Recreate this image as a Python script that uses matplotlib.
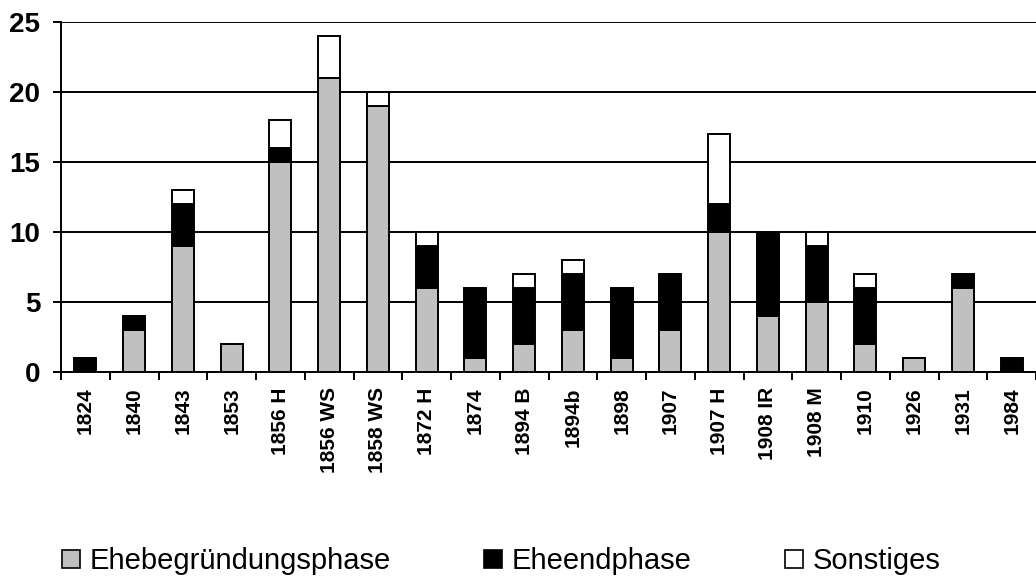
import numpy as np
import matplotlib.pyplot as plt
from matplotlib.patches import Patch

plt.rcParams['font.family'] = ['Liberation Sans', 'DejaVu Sans']

labels = ['1824', '1840', '1843', '1853', '1856 H', '1856 WS', '1858 WS', '1872 H',
          '1874', '1894 B', '1894b', '1898', '1907', '1907 H', '1908 IR', '1908 M',
          '1910', '1926', '1931', '1984']
begruendung = [0, 3, 9, 2, 15, 21, 19, 6, 1, 2, 3, 1, 3, 10, 4, 5, 2, 1, 6, 0]
endphase = [1, 1, 3, 0, 1, 0, 0, 3, 5, 4, 4, 5, 4, 2, 6, 4, 4, 0, 1, 1]
sonstiges = [0, 0, 1, 0, 2, 3, 1, 1, 0, 1, 1, 0, 0, 5, 0, 1, 1, 0, 0, 0]

x = np.arange(len(labels))
b1 = np.array(begruendung)
b2 = np.array(endphase)
b3 = np.array(sonstiges)

fig = plt.figure(figsize=(10.36, 5.78), dpi=100)
ax = fig.add_axes([0.0589, 0.3564, 0.9411, 0.6055])

w = 0.45
lw = 1.4
ax.bar(x, b1, w, color='#c0c0c0', edgecolor='black', linewidth=lw, zorder=3)
ax.bar(x, b2, w, bottom=b1, color='black', edgecolor='black', linewidth=lw, zorder=3)
ax.bar(x, b3, w, bottom=b1 + b2, color='white', edgecolor='black', linewidth=lw, zorder=3)

ax.set_xlim(-0.5, len(labels) - 0.5)
ax.set_ylim(0, 25)
ax.set_yticks([0, 5, 10, 15, 20, 25])
ax.yaxis.grid(True, color='black', linewidth=1.4)
ax.set_axisbelow(True)

ax.set_xticks(x)
ax.set_xticklabels(labels, rotation=90, fontsize=15, fontweight='bold')
ax.set_xticks(np.arange(-0.5, len(labels)), minor=True)
ax.tick_params(axis='x', which='major', length=0, pad=11)
ax.tick_params(axis='x', which='minor', length=6, width=1.4, direction='out')
ax.tick_params(axis='y', length=6, width=1.4, direction='out', labelsize=20, pad=9)
for t in ax.get_yticklabels():
    t.set_fontweight('bold')

for s in ['top', 'right']:
    ax.spines[s].set_visible(False)
ax.spines['left'].set_linewidth(1.4)
ax.spines['bottom'].set_linewidth(1.4)

handles = [Patch(facecolor='#c0c0c0', edgecolor='black', linewidth=1.2),
           Patch(facecolor='black', edgecolor='black', linewidth=1.2),
           Patch(facecolor='white', edgecolor='black', linewidth=1.2)]
fig.legend(handles, ['Ehebegründungsphase', 'Eheendphase', 'Sonstiges'],
           loc='center', bbox_to_anchor=(0.484, 0.029), ncol=3, frameon=False,
           fontsize=21, handlelength=0.6, handleheight=0.6, handletextpad=0.35,
           columnspacing=3.2)

fig.savefig('out.png', dpi=100)
